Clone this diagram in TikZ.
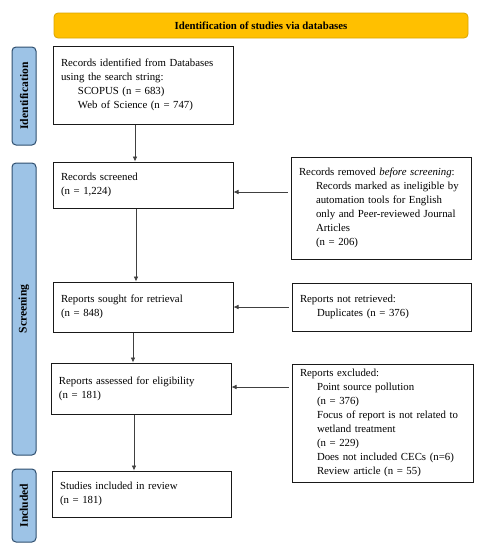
\documentclass[tikz,border=0pt]{standalone}
\usepackage{fontspec}
\setmainfont{Liberation Serif}
\usetikzlibrary{arrows.meta}
\definecolor{bannerfill}{HTML}{FFC000}
\definecolor{bannerdraw}{HTML}{D9A400}
\definecolor{sidefill}{HTML}{9DC3E6}
\definecolor{sidedraw}{HTML}{2F4F6F}
\tikzset{
  flowbox/.style={draw=black!90, line width=1pt, inner xsep=8pt, inner ysep=0pt, align=left, anchor=center, font=\fontsize{10.8pt}{14pt}\selectfont},
  sidebar/.style={draw=sidedraw, fill=sidefill, line width=1pt, rounded corners=4pt, minimum width=24pt, anchor=center},
  sidelabel/.style={rotate=90, font=\fontsize{11.6pt}{12pt}\selectfont\bfseries},
  flowarrow/.style={draw=black!75, line width=0.6pt, -{Latex[length=5pt,width=4.5pt]}},
}
\newcommand{\ind}{\hspace*{17pt}}
\begin{document}
\begin{tikzpicture}[x=1pt,y=-1pt]
\useasboundingbox (0,0) rectangle (486,550);
% banner
\node[draw=bannerdraw, fill=bannerfill, line width=0.8pt, rounded corners=4pt, minimum width=414pt, minimum height=25pt, anchor=center, font=\fontsize{10.8pt}{12pt}\selectfont\bfseries] (banner) at (261,25.5) {Identification of studies via databases};
% side bars
\node[sidebar, minimum height=98pt] (sideid) at (24,96) {};
\node[sidelabel] (sideidl) at (sideid.center) {Identification};
\node[sidebar, minimum height=292pt] (sidescr) at (24,309) {};
\node[sidelabel] (sidescrl) at (sidescr.center) {Screening};
\node[sidebar, minimum height=73pt] (sideinc) at (24,505.5) {};
\node[sidelabel] (sideincl) at (sideinc.center) {Included};
% left column
\node[flowbox, minimum width=180pt, minimum height=78pt, text width=164pt] (ident) at (143,85) {Records identified from Databases\\using the search string:\\\ind SCOPUS (n = 683)\\\ind Web of Science (n = 747)};
\node[flowbox, minimum width=180pt, minimum height=46pt, text width=164pt] (screened) at (143,185) {Records screened\\(n = 1,224)};
\node[flowbox, minimum width=180pt, minimum height=50pt, text width=164pt] (sought) at (143,307) {Reports sought for retrieval\\(n = 848)};
\node[flowbox, minimum width=180pt, minimum height=51pt, text width=164pt] (assessed) at (141,388.5) {Reports assessed for eligibility\\(n = 181)};
\node[flowbox, minimum width=179pt, minimum height=46pt, text width=163pt] (included) at (141.5,494) {Studies included in review\\(n = 181)};
% right column
\node[flowbox, minimum width=180pt, minimum height=102pt, text width=164pt] (removed) at (381,208) {Records removed \textit{before screening}:\\\ind Records marked as ineligible by\\\ind automation tools for English\\\ind only and Peer-reviewed Journal\\\ind Articles\\\ind (n = 206)};
\node[flowbox, minimum width=179pt, minimum height=48pt, text width=163pt] (notret) at (381.5,307) {Reports not retrieved:\\\ind Duplicates (n = 376)};
\node[flowbox, minimum width=181pt, minimum height=118pt, text width=165pt] (excluded) at (382.5,423) {Reports excluded:\\\ind Point source pollution\\\ind (n = 376)\\\ind Focus of report is not related to\\\ind wetland treatment\\\ind (n = 229)\\\ind Does not included CECs (n=6)\\\ind Review article (n = 55)};
% arrows
\draw[flowarrow] (ident.south -| 135,0) -- (screened.north -| 135,0);
\draw[flowarrow] (screened.south -| 136,0) -- (sought.north -| 136,0);
\draw[flowarrow] (sought.south -| 133,0) -- (assessed.north -| 133,0);
\draw[flowarrow] (assessed.south -| 134,0) -- (included.north -| 134,0);
\draw[flowarrow] (removed.west |- 0,192) ++(-3,0) -- (screened.east |- 0,192);
\draw[flowarrow] (notret.west |- 0,307) ++(-3,0) -- (sought.east |- 0,307);
\draw[flowarrow] (excluded.west |- 0,387) ++(-3,0) -- (assessed.east |- 0,387);
\end{tikzpicture}
\end{document}
